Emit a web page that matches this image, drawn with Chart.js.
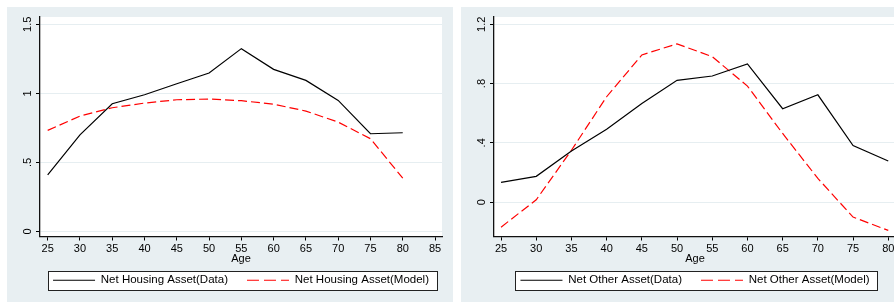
<!DOCTYPE html>
<html>
<head>
<meta charset="utf-8">
<script src="https://cdn.jsdelivr.net/npm/chart.js@4.4.1/dist/chart.umd.min.js"></script>
<style>
html, body { margin: 0; padding: 0; background: #fff; overflow: hidden; width: 894px; height: 303px; }
.panel { position: absolute; top: 7px; width: 446px; height: 295px; background: #e8eff2; }
canvas { position: absolute; top: 7px; }
</style>
</head>
<body>
<div class="panel" style="left:7px"></div>
<div class="panel" style="left:461px"></div>
<canvas id="chartHousing" width="468" height="295" style="left:7px;width:468px;height:295px"></canvas>
<canvas id="chartOther" width="468" height="295" style="left:461px;width:468px;height:295px"></canvas>
<script>
var ages = [25, 30, 35, 40, 45, 50, 55, 60, 65, 70, 75, 80];

var housingData  = [0.41, 0.70, 0.925, 0.99, 1.07, 1.147, 1.324, 1.174, 1.094, 0.949, 0.708, 0.715];
var housingModel = [0.732, 0.836, 0.896, 0.93, 0.954, 0.959, 0.947, 0.922, 0.872, 0.792, 0.672, 0.386];

var otherData  = [0.133, 0.174, 0.345, 0.492, 0.666, 0.822, 0.851, 0.932, 0.63, 0.724, 0.382, 0.277];
var otherModel = [-0.169, 0.016, 0.35, 0.711, 0.993, 1.068, 0.981, 0.783, 0.463, 0.16, -0.101, -0.191];

Chart.defaults.font.family = '"Liberation Sans", Arial, sans-serif';
Chart.defaults.color = '#000';

function toPoints(xs, ys) {
    return xs.map(function(x, i) { return {x: x, y: ys[i]}; });
}

// stata style labels: .5 instead of 0.5
function stataLabel(v) {
    var s = String(Math.round(v * 10) / 10);
    return s.replace(/^0\./, '.').replace(/^-0\./, '-.');
}

// white plot region + framed legend box
var panelPlugin = {
    id: 'panelPlugin',
    beforeDraw: function(chart) {
        var ctx = chart.ctx;
        var a = chart.chartArea;
        ctx.save();
        ctx.fillStyle = '#fff';
        ctx.fillRect(a.left, a.top, a.right - a.left, a.bottom - a.top);
        var boxes = chart.legend.legendHitBoxes;
        if (boxes && boxes.length) {
            var l = Math.min.apply(null, boxes.map(function(b) { return b.left; })) - 5;
            var r = Math.max.apply(null, boxes.map(function(b) { return b.left + b.width; })) + 8;
            var cy = boxes[0].top + boxes[0].height / 2;
            var t = Math.round(cy - 9.5);
            ctx.fillRect(l, t, r - l, 19);
            ctx.strokeStyle = '#222';
            ctx.lineWidth = 1;
            ctx.strokeRect(Math.round(l) + 0.5, t + 0.5, Math.round(r - l), 19);
        }
        ctx.restore();
    }
};

function makeChart(id, labelData, labelModel, dataVals, modelVals, xMin, xMax, yMin, yMax, yStep) {
    return new Chart(document.getElementById(id), {
        type: 'line',
        data: {
            datasets: [{
                label: labelData,
                data: toPoints(ages, dataVals),
                borderColor: '#000',
                backgroundColor: '#000',
                borderWidth: 1.2,
                pointRadius: 0,
                fill: false,
                xAxisID: 'x',
                yAxisID: 'y'
            }, {
                label: labelModel,
                data: toPoints(ages, modelVals),
                borderColor: '#ff0000',
                backgroundColor: '#ff0000',
                borderWidth: 1.2,
                borderDash: [9, 4],
                pointRadius: 0,
                fill: false,
                xAxisID: 'x',
                yAxisID: 'y'
            }]
        },
        options: {
            responsive: false,
            animation: false,
            layout: { padding: { top: 10, bottom: 6, left: 0, right: 0 } },
            plugins: {
                tooltip: { enabled: false },
                legend: {
                    position: 'bottom',
                    labels: {
                        usePointStyle: true,
                        pointStyle: 'line',
                        pointStyleWidth: 42,
                        padding: 19,
                        color: '#000',
                        font: { size: 11.5 },
                        // legend sample uses longer dashes than the plot
                        generateLabels: function(chart) {
                            var items = Chart.defaults.plugins.legend.labels.generateLabels(chart);
                            items.forEach(function(it) {
                                var ds = chart.data.datasets[it.datasetIndex];
                                it.lineDash = ds.borderDash ? [12, 5] : [];
                                it.lineWidth = 1.2;
                                it.strokeStyle = ds.borderColor;
                            });
                            return items;
                        }
                    }
                }
            },
            scales: {
                x: {
                    type: 'linear',
                    position: 'bottom',
                    min: xMin,
                    max: xMax,
                    ticks: { stepSize: 5, includeBounds: false, autoSkip: false, maxRotation: 0, padding: 2, font: { size: 11 } },
                    grid: { drawOnChartArea: false, tickLength: 4, tickColor: '#000' },
                    border: { display: true, color: '#111', width: 1.3 },
                    title: { display: true, text: 'Age', font: { size: 11 }, padding: { top: 0, bottom: -10 } },
                    afterFit: function(s) { s.height = 19; }
                },
                y: {
                    type: 'linear',
                    position: 'left',
                    min: yMin,
                    max: yMax,
                    ticks: {
                        stepSize: yStep,
                        includeBounds: false,
                        minRotation: 90,
                        maxRotation: 90,
                        crossAlign: 'center',
                        padding: 0,
                        font: { size: 11 },
                        callback: function(v) { return stataLabel(v); }
                    },
                    grid: { color: '#e6eef1', tickLength: 4, tickColor: '#000' },
                    border: { display: true, color: '#111', width: 1.3 },
                    afterFit: function(s) { s.width = 33; }
                },
                yPad: {
                    type: 'linear',
                    position: 'right',
                    grid: { display: false },
                    border: { display: false },
                    ticks: { display: false },
                    afterFit: function(s) { s.width = 33; }
                }
            }
        },
        plugins: [panelPlugin]
    });
}

var chartHousing = makeChart('chartHousing', 'Net Housing Asset(Data)', 'Net Housing Asset(Model)',
    housingData, housingModel, 23.81, 86.08, -0.036, 1.553, 0.5);

var chartOther = makeChart('chartOther', 'Net Other Asset(Data)', 'Net Other Asset(Model)',
    otherData, otherModel, 24.0, 81.1, -0.232, 1.249, 0.4);
</script>
</body>
</html>
